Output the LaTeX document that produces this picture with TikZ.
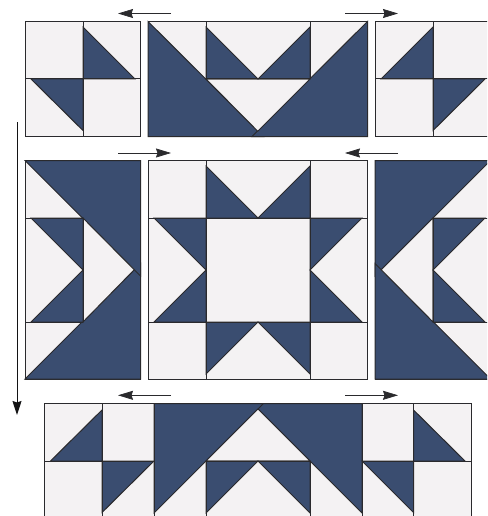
\documentclass[tikz,border=0pt]{standalone}
\usetikzlibrary{arrows.meta}
\definecolor{navy}{HTML}{3A4D70}
\definecolor{paper}{HTML}{F4F2F3}
\definecolor{ink}{HTML}{2A2A2D}
\tikzset{
  patch/.style={fill=paper,draw=ink,line width=1pt,line join=miter},
  dark/.style={fill=navy,draw=ink,line width=1pt,line join=miter},
  seam/.style={draw=ink,line width=1pt},
  turnarrow/.style={draw=ink,line width=0.7pt,-{Stealth[length=15pt,width=9pt,inset=1.5pt]}},
  rowarrow/.style={draw=black!55!ink,line width=1pt,-{Stealth[length=14pt,width=9pt,inset=1.5pt]}}
}
\newcommand{\tri}[3]{\path[dark] (#1) -- (#2) -- (#3) -- cycle;}
\begin{document}
\begin{tikzpicture}[x=1pt,y=-1pt]
\useasboundingbox (0,0) rectangle (487,516);
\clip (0,0) rectangle (487,516);
% ---- top row
\path[patch] (25,21.5) rectangle (140.5,136.5);
\tri{83,27}{83,79}{135,79}
\tri{31,79}{83,79}{83,130.5}
\draw[seam] (83,21.5) -- (83,136.5) (25,79) -- (140.5,79);
\path[patch] (148,21.5) rectangle (367.5,136.5);
\tri{148,21.5}{148,136.5}{263.5,136.5}
\tri{367.5,21.5}{367.5,136.5}{252,136.5}
\path[patch] (206,79) -- (310,79) -- (257.75,131.25) -- cycle;
\tri{206,27}{206,79}{258,79}
\tri{310,27}{310,79}{258,79}
\draw[seam] (206,21.5) -- (206,79) (310,21.5) -- (310,79) (206,79) -- (310,79);
\path[patch] (375,21.5) rectangle (491,136.5);
\tri{433,27}{433,79}{381,79}
\tri{433,79}{485,79}{433,130.5}
\draw[seam] (433,21.5) -- (433,136.5) (375,79) -- (491,79);
% ---- middle row
\path[patch] (25,160.5) rectangle (140.5,379);
\tri{25,379}{140.5,379}{140.5,263.5}
\tri{25,160.5}{140.5,160.5}{140.5,276}
\path[patch] (83,218) -- (134.25,269.75) -- (83,322) -- cycle;
\tri{31,218}{83,218}{83,270}
\tri{31,322}{83,322}{83,270}
\draw[seam] (25,218) -- (83,218) (25,322) -- (83,322) (83,218) -- (83,322);
\path[patch] (148,160.5) rectangle (367.5,379);
\tri{206,166}{206,218}{258,218}
\tri{310,166}{310,218}{258,218}
\tri{154,218}{206,218}{206,270}
\tri{154,322}{206,322}{206,270}
\tri{362,218}{310,218}{310,270}
\tri{362,322}{310,322}{310,270}
\tri{206,374}{206,322}{258,322}
\tri{310,374}{310,322}{258,322}
\draw[seam] (206,160.5) -- (206,379) (310,160.5) -- (310,379) (148,218) -- (367.5,218) (148,322) -- (367.5,322);
\path[patch] (375,160.5) rectangle (491,379);
\tri{375,160.5}{490.5,160.5}{375,276}
\tri{375,379}{490.5,379}{375,263.5}
\path[patch] (433,218) -- (381.25,269.75) -- (433,322) -- cycle;
\tri{433,218}{485,218}{433,270}
\tri{433,322}{485,322}{433,270}
\draw[seam] (433,218) -- (491,218) (433,322) -- (491,322) (433,218) -- (433,322);
% ---- bottom row
\path[patch] (44.5,403.5) rectangle (471,530);
\tri{102,410}{102,461}{50.5,461}
\tri{102,461}{154,461}{102,512.5}
\tri{362,403.5}{362,513}{252.5,403.5}
\tri{154,403.5}{154,513}{263.5,403.5}
\path[patch] (206,461) -- (310,461) -- (258,409) -- cycle;
\tri{206,461}{258,461}{206,513}
\tri{310,461}{258,461}{310,513}
\tri{362,461}{413.5,461}{413.5,512.5}
\tri{413.5,410}{413.5,461}{465,461}
\draw[seam] (102,403.5) -- (102,530) (413.5,403.5) -- (413.5,530)
  (154,403.5) -- (154,530) (362,403.5) -- (362,530)
  (206,461) -- (206,530) (310,461) -- (310,530)
  (44.5,461) -- (154,461) (206,461) -- (310,461) (362,461) -- (471,461);
% ---- arrows
\coordinate (a1s) at (171,13.5); \coordinate (a1e) at (118,13.5);
\coordinate (a2s) at (345,13.5); \coordinate (a2e) at (398,13.5);
\coordinate (a3s) at (118,153);  \coordinate (a3e) at (171,153);
\coordinate (a4s) at (398,153);  \coordinate (a4e) at (345,153);
\coordinate (a5s) at (171,395.3); \coordinate (a5e) at (118,395.3);
\coordinate (a6s) at (345,395.3); \coordinate (a6e) at (398,395.3);
\coordinate (a7s) at (17,122);   \coordinate (a7e) at (17,415);
\foreach \n in {1,...,6} {\draw[turnarrow] (a\n s) -- (a\n e);}
\draw[rowarrow] (a7s) -- (a7e);
\end{tikzpicture}
\end{document}
